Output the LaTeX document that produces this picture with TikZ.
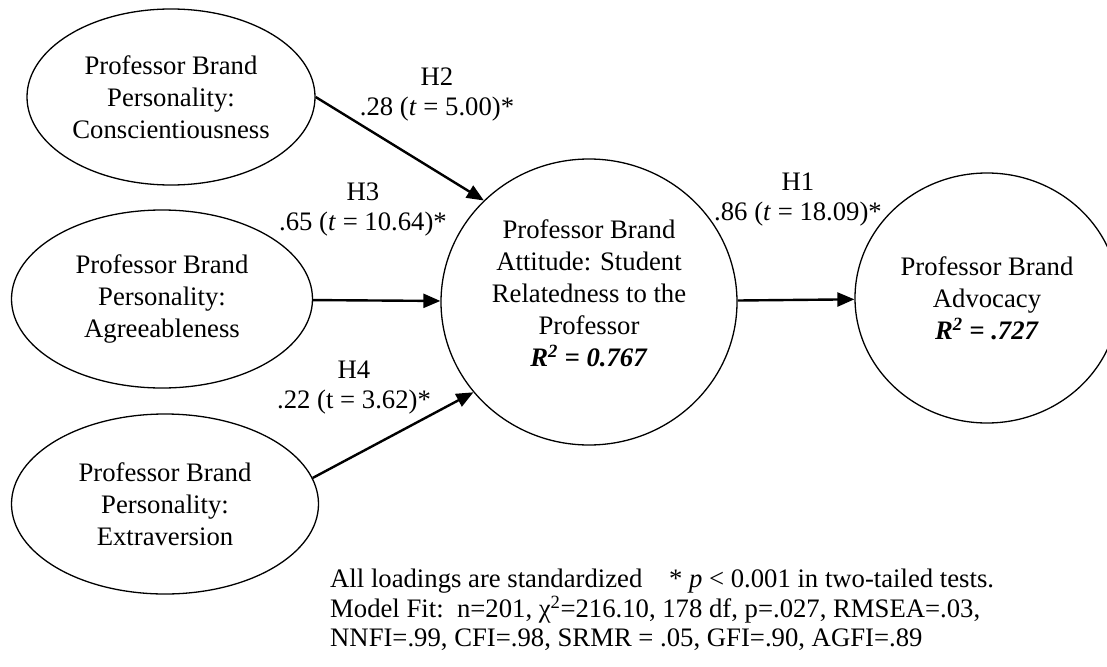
\documentclass[tikz,border=0pt]{standalone}
\usepackage{fontspec}
\setmainfont{Liberation Serif}
\usetikzlibrary{shapes.geometric,arrows.meta}

\begin{document}
\begin{tikzpicture}[x=1pt, y=-1pt,
    font=\fontsize{26.7}{32}\selectfont,
    latent/.style={ellipse, draw, line width=1.3pt, inner sep=0pt, align=center},
    effect/.style={-{Triangle[length=17pt,width=14pt]}, line width=2.4pt},
    hyp/.style={align=center, inner sep=0pt, font=\fontsize{26.7}{30}\selectfont}]
    \useasboundingbox (0,0) rectangle (1107,666);

    \node[latent, minimum width=288pt, minimum height=176pt] (cons) at (171,97) {Professor Brand\\Personality:\\Conscientiousness};
    \node[latent, minimum width=301pt, minimum height=178pt] (agre) at (162,299) {Professor Brand\\Personality:\\Agreeableness};
    \node[latent, minimum width=307pt, minimum height=180pt] (extr) at (165,504) {Professor Brand\\Personality:\\Extraversion};
    \node[latent, minimum width=296pt, minimum height=286pt, text depth=18pt] (att) at (589,302) {Professor Brand\\Attitude: Student\\Relatedness to the\\Professor\\\textbf{\textit{R\textsuperscript{2} = 0.767}}};
    \node[latent, minimum width=264pt, minimum height=250pt] (adv) at (987,298) {Professor Brand\\Advocacy\\\textbf{\textit{R\textsuperscript{2} = .727}}};

    \draw[effect] (cons.east) -- (att.136);
    \draw[effect] (agre) -- (att);
    \draw[effect] (extr.10) -- (att.218);
    \draw[effect] (att) -- (adv);

    \node[hyp] (h2) at (437,95) {H2\\.28 (\textit{t} = 5.00)*};
    \node[hyp] (h3) at (363,210) {H3\\.65 (\textit{t} = 10.64)*};
    \node[hyp] (h4) at (354,388) {H4\\.22 (t = 3.62)*};
    \node[hyp] (h1) at (798,200) {H1\\.86 (\textit{t} = 18.09)*};

    \node[anchor=west, align=left, inner sep=0pt, font=\fontsize{26.7}{27}\selectfont] (fit) at (330,610) {All loadings are standardized\hspace{0.75em} * \textit{p} < 0.001 in two-tailed tests.\\[2pt]Model Fit:\ \ n=201, χ\textsuperscript{2}=216.10, 178 df, p=.027, RMSEA=.03,\\[2pt]NNFI=.99, CFI=.98, SRMR = .05, GFI=.90, AGFI=.89};
\end{tikzpicture}
\end{document}
